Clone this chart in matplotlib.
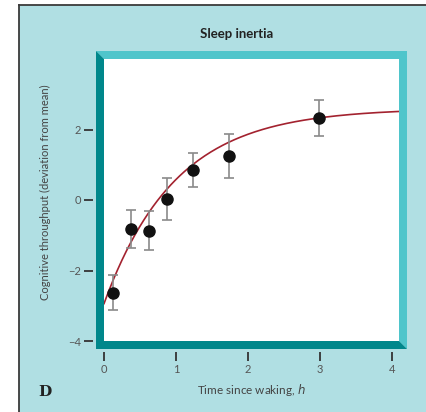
import matplotlib.pyplot as plt
import numpy as np
from matplotlib.patches import Polygon, Rectangle
from matplotlib.transforms import Affine2D

# sleep inertia measurements
hours = [0.12, 0.37, 0.62, 0.87, 1.23, 1.74, 2.99]
throughput = [-2.63, -0.81, -0.87, 0.02, 0.85, 1.25, 2.33]
err = [0.50, 0.54, 0.55, 0.60, 0.48, 0.62, 0.51]

# saturating exponential fit: y = a - b * exp(-t / tau)
fit_a, fit_b, fit_tau = 2.60, 5.54, 0.99

x_ticks = [0, 1, 2, 3, 4]
y_ticks = [-4, -2, 0, 2]

W, H = 427, 412
BG = "#b0dfe3"
DARK = "#00878b"
LIGHT = "#4fc5cb"

fig = plt.figure(figsize=(W / 100, H / 100), dpi=100)
fig.patch.set_facecolor("white")

# pixel coordinates measured from the top-left corner
px = Affine2D().scale(1 / W, -1 / H).translate(0, 1) + fig.transFigure

fig.add_artist(Rectangle((19, 5), W - 19, H - 5, facecolor=BG, edgecolor="none",
                         transform=px, zorder=-3))
fig.add_artist(plt.Line2D([19, 19], [5, H], color="#3a3a3a", lw=1.3,
                          transform=px, zorder=-2))
fig.add_artist(plt.Line2D([19, W], [5, 5], color="#3a3a3a", lw=1.3,
                          transform=px, zorder=-2))

# bevelled frame around the plotting area
L, T, R, B, w = 104, 59, 399, 341, 8
fig.add_artist(Polygon([(L - w, T - w), (R + w, T - w), (R + w, B + w), (R, B), (R, T), (L, T)],
                       closed=True, facecolor=LIGHT, edgecolor="none", transform=px, zorder=-1))
fig.add_artist(Polygon([(L - w, T - w), (L, T), (L, B), (R, B), (R + w, B + w), (L - w, B + w)],
                       closed=True, facecolor=DARK, edgecolor="none", transform=px, zorder=-1))

ax = fig.add_axes([L / W, 1 - B / H, (R - L) / W, (B - T) / H])
ax.set_facecolor("white")

t = np.linspace(0, 4.1, 200)
ax.plot(t, fit_a - fit_b * np.exp(-t / fit_tau), color="#a3222f", lw=1.2, zorder=2)
ax.errorbar(hours, throughput, yerr=err, fmt="none", ecolor="#8a8a8a",
            elinewidth=1.2, capsize=3.6, capthick=1.2, zorder=3)
ax.plot(hours, throughput, "o", color="#111111", markersize=8, zorder=4)

ax.set_xlim(0, (R - L) / 72)
ax.set_ylim(-4, 4)
ax.set_xticks(x_ticks)
ax.set_yticks(y_ticks)
ax.set_yticklabels(["\u22124", "\u22122", "0", "2"])

for side in ["top", "right", "left", "bottom"]:
    ax.spines[side].set_visible(False)
ax.spines["left"].set_position(("outward", w))
ax.spines["bottom"].set_position(("outward", w))
ax.tick_params(direction="out", length=6.5, width=1.3, color="#333333",
               labelsize=8, labelcolor="#555555", pad=2)
for lab in ax.get_xticklabels() + ax.get_yticklabels():
    lab.set_family("Lato")

fig.text(237 / W, 1 - 34 / H, "Sleep inertia", ha="center", va="center",
         fontsize=9.5, fontweight="bold", family="Lato", color="#222222")
fig.text(251 / W, 1 - 390 / H, "Time since waking, $\\it{h}$", ha="center", va="center",
         fontsize=8.5, family="Lato", color="#444444")
fig.text(45 / W, 1 - 192 / H, "Cognitive throughput (deviation from mean)", ha="center",
         va="center", rotation=90, fontsize=8, family="Lato", color="#444444")
fig.text(45 / W, 1 - 392 / H, "D", ha="center", va="center", fontsize=11,
         fontweight="bold", family="DejaVu Serif", color="#222222")

fig.savefig("out.png", dpi=100)
